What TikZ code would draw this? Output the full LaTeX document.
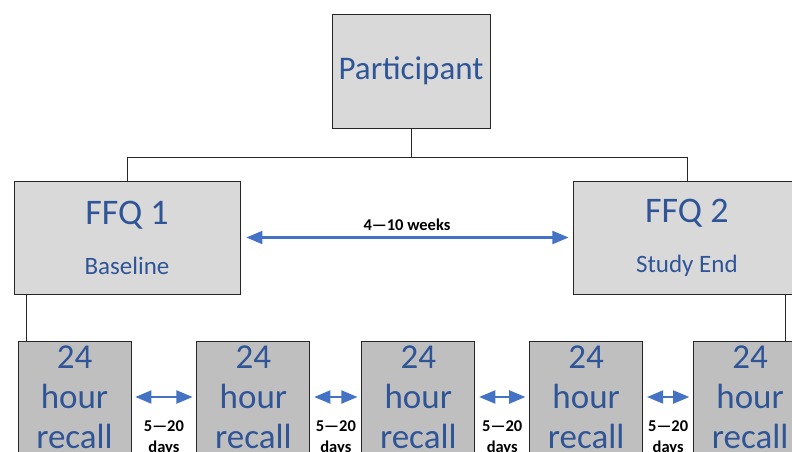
\documentclass[tikz,border=0pt]{standalone}
\usepackage{fontspec}
\setmainfont{Carlito}
\usetikzlibrary{arrows,positioning}
\definecolor{txtblue}{HTML}{2F5597}
\definecolor{arrblue}{HTML}{4472C4}
\definecolor{boxlight}{HTML}{D9D9D9}
\definecolor{boxdark}{HTML}{BFBFBF}
\definecolor{edge}{HTML}{262626}
\tikzstyle{box}=[rectangle,draw=edge,line width=0.9pt,inner sep=0pt,align=center,text=txtblue]
\tikzstyle{person}=[box,fill=boxlight,minimum width=158pt,minimum height=114pt,font=\fontsize{33}{38}\selectfont]
\tikzstyle{ffq}=[box,fill=boxlight,minimum width=226pt,minimum height=113pt]
\tikzstyle{recall}=[box,fill=boxdark,minimum width=113pt,minimum height=112pt,text width=113pt,font=\fontsize{35}{40}\selectfont]
\tikzstyle{link}=[edge,line width=0.8pt]
\tikzstyle{gap}=[triangle 45-triangle 45,arrblue,line width=2.8pt]
\tikzstyle{span}=[text=black,font=\bfseries\fontsize{16.5}{21}\selectfont,align=center]

\begin{document}
\begin{tikzpicture}[x=1pt,y=-1pt]
\useasboundingbox (0,0) rectangle (792,452);
\clip (0,0) rectangle (792,452);

\node (part) [person] at (411,71) {Participant} ;
\node (ffq1) [ffq] at (127,237.5) {\fontsize{36}{40}\selectfont FFQ 1\\[27pt]\fontsize{25}{28}\selectfont Baseline} ;
\node (ffq2) [ffq,right=333pt of ffq1] {\fontsize{36}{40}\selectfont FFQ 2\\[27pt]\fontsize{25}{28}\selectfont Study End} ;

\draw [link] (part.south) -- ++(0,29) -| (ffq1.north) ;
\draw [link] (part.south) -- ++(0,29) -| (ffq2.north) ;
\draw [gap,shorten <=6pt,shorten >=5pt] (ffq1) -- node (weeks) [span,above=2pt] {4—10 weeks} (ffq2) ;

\node (rec1) [recall] at (74.5,397) {24\\hour\\recall} ;
\node (rec2) [recall,right=65pt of rec1] {24\\hour\\recall} ;
\node (rec3) [recall,right=51pt of rec2] {24\\hour\\recall} ;
\node (rec4) [recall,right=54pt of rec3] {24\\hour\\recall} ;
\node (rec5) [recall,right=50pt of rec4] {24\\hour\\recall} ;

\draw [link] ([xshift=13pt]ffq1.south west) -- ([xshift=13pt]ffq1.south west |- rec1.north) ;
\draw [link] ([xshift=212pt]ffq2.south west) -- ([xshift=212pt]ffq2.south west |- rec5.north) ;

\draw [gap,shorten <=4pt,shorten >=4pt] (rec1) -- node (days1) [span,below=19pt] {5—20\\days} (rec2) ;
\draw [gap,shorten <=4pt,shorten >=4pt] (rec2) -- node (days2) [span,below=19pt] {5—20\\days} (rec3) ;
\draw [gap,shorten <=4pt,shorten >=4pt] (rec3) -- node (days3) [span,below=19pt] {5—20\\days} (rec4) ;
\draw [gap,shorten <=4pt,shorten >=4pt] (rec4) -- node (days4) [span,below=19pt] {5—20\\days} (rec5) ;

\end{tikzpicture}
\end{document}
